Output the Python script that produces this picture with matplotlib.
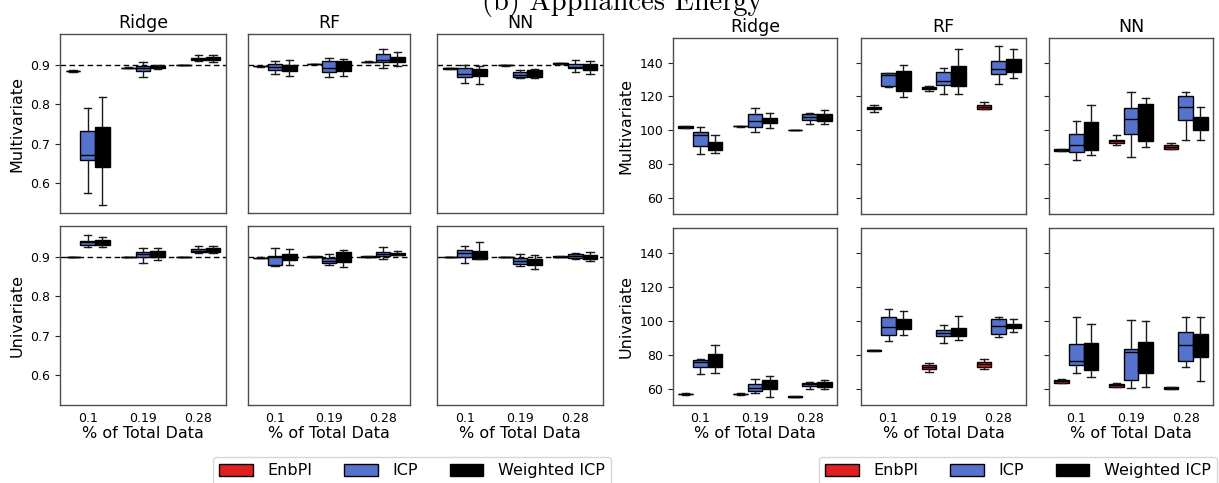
import matplotlib
matplotlib.use("Agg")
import matplotlib.pyplot as plt
from matplotlib.patches import Patch

W, H = 1219, 483

methods = ["EnbPI", "ICP", "Weighted ICP"]
fractions = ["0.1", "0.19", "0.28"]
models = ["Ridge", "RF", "NN"]

# each entry: (whislo, q1, median, q3, whishi) per fraction
# ---- coverage, multivariate ----
cov_multi_ridge = {
    "EnbPI": [(0.883, 0.884, 0.885, 0.886, 0.887), (0.892, 0.8925, 0.893, 0.8935, 0.894), (0.899, 0.8995, 0.900, 0.9005, 0.901)],
    "ICP": [(0.575, 0.657, 0.671, 0.732, 0.790), (0.869, 0.886, 0.892, 0.898, 0.908), (0.910, 0.912, 0.915, 0.917, 0.925)],
    "Weighted ICP": [(0.544, 0.640, 0.690, 0.742, 0.819), (0.890, 0.892, 0.894, 0.897, 0.899), (0.908, 0.913, 0.916, 0.9196, 0.925)],
}
cov_multi_rf = {
    "EnbPI": [(0.896, 0.8965, 0.897, 0.8975, 0.898), (0.902, 0.9022, 0.9025, 0.9028, 0.903), (0.907, 0.9075, 0.908, 0.9085, 0.909)],
    "ICP": [(0.878, 0.8865, 0.894, 0.9025, 0.910), (0.869, 0.882, 0.892, 0.910, 0.917), (0.893, 0.907, 0.913, 0.928, 0.940)],
    "Weighted ICP": [(0.871, 0.886, 0.893, 0.900, 0.913), (0.873, 0.885, 0.897, 0.909, 0.9145), (0.898, 0.9076, 0.913, 0.9196, 0.934)],
}
cov_multi_nn = {
    "EnbPI": [(0.8905, 0.891, 0.8915, 0.892, 0.8925), (0.8985, 0.899, 0.8995, 0.900, 0.9005), (0.903, 0.9035, 0.904, 0.9045, 0.905)],
    "ICP": [(0.855, 0.870, 0.876, 0.8915, 0.900), (0.866, 0.870, 0.875, 0.881, 0.887), (0.881, 0.8915, 0.896, 0.9017, 0.912)],
    "Weighted ICP": [(0.851, 0.873, 0.882, 0.890, 0.897), (0.868, 0.869, 0.879, 0.888, 0.8905), (0.877, 0.887, 0.895, 0.9025, 0.910)],
}
# ---- coverage, univariate ----
cov_uni_ridge = {
    "EnbPI": [(0.899, 0.8995, 0.900, 0.9005, 0.901), (0.899, 0.8995, 0.900, 0.9005, 0.901), (0.899, 0.8995, 0.900, 0.9005, 0.901)],
    "ICP": [(0.9245, 0.931, 0.937, 0.942, 0.955), (0.8855, 0.901, 0.907, 0.914, 0.923), (0.909, 0.912, 0.916, 0.920, 0.928)],
    "Weighted ICP": [(0.926, 0.931, 0.938, 0.944, 0.952), (0.892, 0.899, 0.908, 0.916, 0.923), (0.9098, 0.9135, 0.918, 0.9237, 0.928)],
}
cov_uni_rf = {
    "EnbPI": [(0.897, 0.8975, 0.898, 0.8985, 0.899), (0.900, 0.9005, 0.901, 0.9015, 0.902), (0.900, 0.9005, 0.901, 0.9015, 0.902)],
    "ICP": [(0.877, 0.880, 0.899, 0.9025, 0.9237), (0.880, 0.885, 0.891, 0.898, 0.9076), (0.894, 0.9015, 0.908, 0.914, 0.9245)],
    "Weighted ICP": [(0.8786, 0.892, 0.900, 0.9076, 0.920), (0.8755, 0.887, 0.900, 0.913, 0.9186), (0.905, 0.905, 0.908, 0.911, 0.916)],
}
cov_uni_nn = {
    "EnbPI": [(0.899, 0.8995, 0.900, 0.9005, 0.901), (0.899, 0.8995, 0.900, 0.9005, 0.901), (0.900, 0.9005, 0.901, 0.9015, 0.902)],
    "ICP": [(0.8855, 0.901, 0.910, 0.918, 0.928), (0.877, 0.882, 0.891, 0.8975, 0.9076), (0.894, 0.8975, 0.903, 0.9076, 0.910)],
    "Weighted ICP": [(0.8957, 0.8957, 0.905, 0.916, 0.938), (0.870, 0.8786, 0.886, 0.894, 0.904), (0.889, 0.894, 0.900, 0.906, 0.914)],
}
# ---- interval width, multivariate ----
wid_multi_ridge = {
    "EnbPI": [(101.2, 101.4, 101.9, 102.4, 102.6), (102.1, 102.2, 102.4, 102.6, 102.7), (99.8, 99.9, 100.0, 100.1, 100.2)],
    "ICP": [(85.6, 90.4, 97.4, 98.6, 102.0), (99.0, 102.0, 105.6, 109.4, 113.4), (103.6, 106.0, 108.0, 109.4, 110.0)],
    "Weighted ICP": [(86.4, 88.0, 90.0, 93.0, 97.4), (101.4, 104.0, 105.5, 107.0, 110.0), (103.6, 105.4, 107.5, 109.4, 112.0)],
}
wid_multi_rf = {
    "EnbPI": [(110.6, 112.3, 113.1, 113.9, 114.7), (123.4, 124.2, 124.8, 125.4, 126.2), (112.3, 112.7, 113.9, 114.9, 116.5)],
    "ICP": [(125.4, 126.2, 132.5, 133.7, 134.0), (121.4, 126.8, 129.1, 134.3, 136.6), (127.6, 133.3, 136.4, 140.8, 150.1)],
    "Weighted ICP": [(119.9, 123.4, 130.0, 135.0, 138.4), (121.2, 126.4, 133.0, 138.0, 148.1), (130.7, 134.7, 138.0, 142.0, 147.9)],
}
wid_multi_nn = {
    "EnbPI": [(87.6, 87.8, 88.2, 88.6, 88.8), (91.4, 92.2, 93.4, 94.4, 97.3), (88.6, 89.0, 90.2, 91.4, 92.6)],
    "ICP": [(82.3, 86.9, 91.0, 97.7, 105.2), (84.3, 97.5, 106.4, 113.3, 122.8), (94.4, 105.8, 113.7, 120.0, 122.8)],
    "Weighted ICP": [(85.3, 88.2, 97.0, 104.6, 115.1), (90.0, 93.8, 106.0, 115.3, 119.3), (94.2, 100.3, 104.0, 107.8, 113.9)],
}
# ---- interval width, univariate ----
wid_uni_ridge = {
    "EnbPI": [(56.4, 56.6, 56.8, 57.0, 57.2), (56.4, 56.6, 56.8, 57.0, 57.2), (54.9, 55.1, 55.3, 55.5, 55.7)],
    "ICP": [(68.5, 72.4, 75.4, 76.9, 77.3), (57.6, 58.4, 60.2, 62.6, 65.5), (59.8, 61.6, 62.4, 63.2, 64.1)],
    "Weighted ICP": [(69.1, 72.4, 76.0, 80.1, 85.4), (54.9, 60.0, 62.0, 65.1, 67.3), (59.6, 61.2, 62.5, 63.9, 65.3)],
}
wid_uni_rf = {
    "EnbPI": [(82.0, 82.2, 82.5, 82.8, 83.0), (69.9, 71.8, 72.6, 73.6, 75.0), (71.6, 72.8, 74.2, 75.4, 77.3)],
    "ICP": [(88.2, 91.5, 96.1, 102.2, 106.7), (87.0, 90.7, 92.5, 94.3, 97.2), (90.3, 91.9, 96.6, 100.8, 102.0)],
    "Weighted ICP": [(91.5, 95.1, 98.0, 100.8, 105.7), (88.6, 91.1, 93.0, 95.9, 103.0), (93.5, 95.5, 96.8, 98.2, 101.2)],
}
wid_uni_nn = {
    "EnbPI": [(63.0, 63.3, 64.3, 65.1, 65.5), (60.8, 61.2, 61.8, 62.4, 63.2), (59.8, 60.0, 60.4, 60.8, 61.2)],
    "ICP": [(69.3, 73.8, 76.2, 86.2, 102.2), (60.2, 65.1, 81.5, 83.3, 100.4), (72.4, 76.4, 85.6, 93.1, 102.4)],
    "Weighted ICP": [(66.9, 71.2, 81.0, 86.8, 98.0), (60.8, 69.3, 80.0, 87.4, 99.8), (64.5, 78.5, 86.0, 92.1, 102.2)],
}

colors = {"EnbPI": "#df2020", "ICP": "#5573cd", "Weighted ICP": "#000000"}
SPINE = "0.3"


def px_rect(x0, y0, x1, y1):
    return [x0 / W, 1 - y1 / H, (x1 - x0) / W, (y1 - y0) / H]


def draw_panel(ax, panel):
    width = 0.8 / len(methods)
    for k, m in enumerate(methods):
        off = -0.4 + width * (k + 0.5)
        stats = []
        for (lo, q1, med, q3, hi) in panel[m]:
            stats.append({"whislo": lo, "q1": q1, "med": med, "q3": q3,
                          "whishi": hi, "fliers": []})
        ax.bxp(stats, positions=[i + off for i in range(len(fractions))],
               widths=width, patch_artist=True, showfliers=False,
               boxprops=dict(facecolor=colors[m], edgecolor="black", linewidth=1.0),
               medianprops=dict(color="black", linewidth=1.0),
               whiskerprops=dict(color="0.1", linewidth=1.0),
               capprops=dict(color="0.1", linewidth=1.0))
    ax.set_xlim(-0.5, len(fractions) - 0.5)
    for s in ax.spines.values():
        s.set_color(SPINE)
        s.set_linewidth(1.0)


fig = plt.figure(figsize=(W / 100, H / 100), dpi=100)

groups = [
    {"panels": [[cov_multi_ridge, cov_multi_rf, cov_multi_nn],
                [cov_uni_ridge, cov_uni_rf, cov_uni_nn]],
     "cols": [(60, 226), (248, 410), (437, 603)],
     "rows": [(34, 213), (226, 405)],
     "ylim": (0.523, 0.979), "yticks": [0.6, 0.7, 0.8, 0.9],
     "fmt": "{:.1f}", "hline": 0.9, "inner_ticks": False},
    {"panels": [[wid_multi_ridge, wid_multi_rf, wid_multi_nn],
                [wid_uni_ridge, wid_uni_rf, wid_uni_nn]],
     "cols": [(673, 837), (861, 1026), (1049, 1213)],
     "rows": [(38, 214), (228, 405)],
     "ylim": (50.3, 154.6), "yticks": [60, 80, 100, 120, 140],
     "fmt": "{:d}", "hline": None, "inner_ticks": True},
]
row_names = ["Multivariate", "Univariate"]

for g in groups:
    for r, (y0, y1) in enumerate(g["rows"]):
        for c, (x0, x1) in enumerate(g["cols"]):
            ax = fig.add_axes(px_rect(x0, y0, x1, y1))
            draw_panel(ax, g["panels"][r][c])
            if g["hline"] is not None:
                ax.axhline(g["hline"], color="black", linestyle="--",
                           linewidth=1.0, dashes=(4, 2.5), zorder=0.5)
            ax.set_ylim(*g["ylim"])
            ax.set_yticks(g["yticks"])
            if c == 0:
                ax.set_yticklabels([g["fmt"].format(v) for v in g["yticks"]], fontsize=9)
                ax.set_ylabel(row_names[r], fontsize=11.5)
            else:
                ax.set_yticklabels([])
                if not g["inner_ticks"]:
                    ax.tick_params(axis="y", length=0)
            ax.tick_params(axis="y", colors="0.15", labelcolor="black")
            ax.set_xticks(range(len(fractions)))
            if r == 0:
                ax.set_xticklabels([])
                ax.tick_params(axis="x", length=0)
                ax.set_title(models[c], fontsize=12.5, pad=4)
            else:
                ax.set_xticklabels(fractions, fontsize=9)
                ax.tick_params(axis="x", length=0, pad=5)
                ax.set_xlabel("% of Total Data", fontsize=11.5, labelpad=1)

handles = [Patch(facecolor=colors[m], edgecolor="black", linewidth=1.0, label=m)
           for m in methods]
for lx in (213, 819):
    fig.legend(handles=handles, loc="upper left",
               bbox_to_anchor=(lx / W, 1 - 457 / H), ncol=3, fontsize=11.5,
               handlelength=2.1, handleheight=0.75, handletextpad=0.9,
               columnspacing=2.0, borderaxespad=0, frameon=True)

# caption of the original figure, its top clipped by the image edge
fig.text(0.51, 1 - 10 / H, "(b) Appliances Energy", ha="center", va="baseline",
         fontsize=20.5, family="cmr10")

fig.savefig("out.png", dpi=100)
